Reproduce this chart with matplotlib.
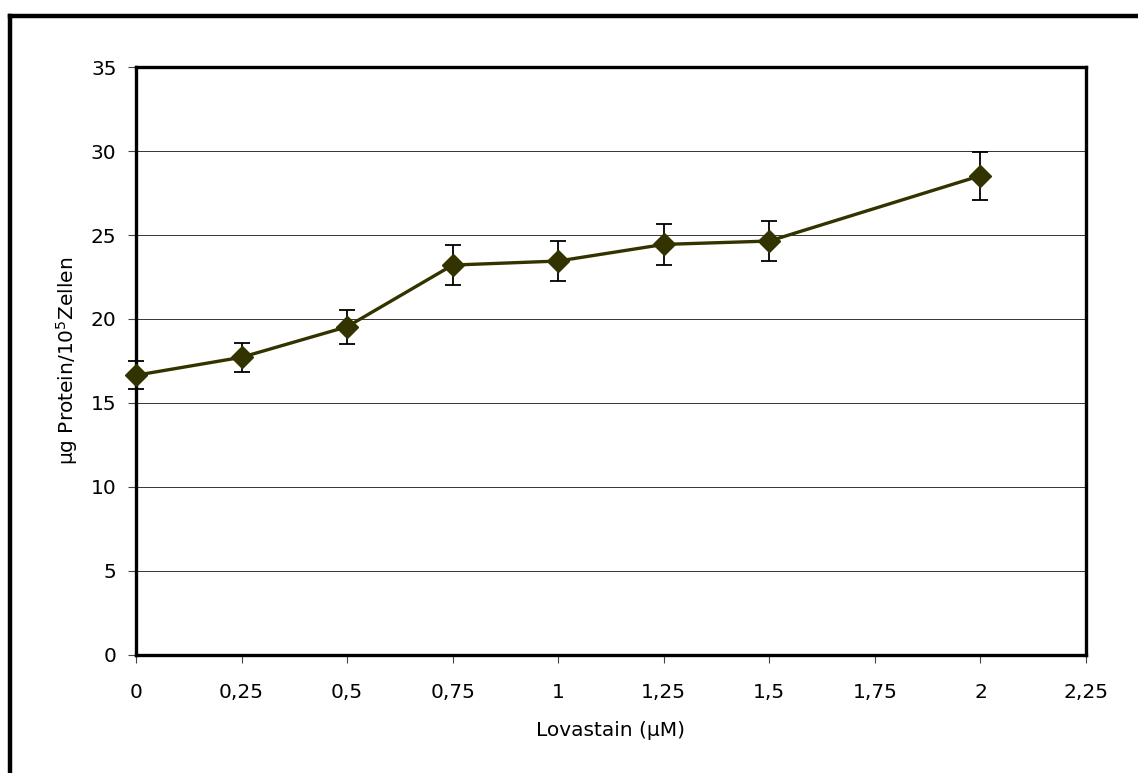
import matplotlib.pyplot as plt
from matplotlib.lines import Line2D
from matplotlib.ticker import FuncFormatter

# Lovastatin dose vs. protein content
dose = [0, 0.25, 0.5, 0.75, 1.0, 1.25, 1.5, 2.0]
protein = [16.65, 17.72, 19.54, 23.21, 23.45, 24.44, 24.64, 28.53]
protein_err = [0.82, 0.86, 1.01, 1.17, 1.17, 1.22, 1.21, 1.42]

x_ticks = [0, 0.25, 0.5, 0.75, 1.0, 1.25, 1.5, 1.75, 2.0, 2.25]
y_ticks = [0, 5, 10, 15, 20, 25, 30, 35]

plt.rcParams['font.family'] = ['DejaVu Sans']

fig = plt.figure(figsize=(11.38, 7.73), dpi=100)
ax = fig.add_axes([0.1195, 0.1527, 0.8348, 0.7606])

# frame around the chart (only left and top edges are inside the picture)
fig.add_artist(Line2D([0.0088, 0.0088], [0.0, 0.9793], transform=fig.transFigure,
                      color='black', lw=3.2, solid_capstyle='projecting'))
fig.add_artist(Line2D([0.0088, 1.0], [0.9793, 0.9793], transform=fig.transFigure,
                      color='black', lw=3.2, solid_capstyle='projecting'))

eb = ax.errorbar(dose, protein, yerr=protein_err, fmt='none', ecolor='black',
                 elinewidth=1.3, capsize=6, capthick=1.3, zorder=3)
for art in eb.lines[1] + eb.lines[2]:
    art.set_clip_on(False)
ax.plot(dose, protein, color='#333300', lw=2.4, marker='D', markersize=11,
        markerfacecolor='#333300', markeredgecolor='#333300', zorder=4,
        clip_on=False)

ax.set_xlim(0, 2.25)
ax.set_ylim(0, 35)
ax.set_xticks(x_ticks)
ax.set_yticks(y_ticks)
fmt = FuncFormatter(lambda v, p: f'{v:g}'.replace('.', ','))
ax.xaxis.set_major_formatter(fmt)
ax.yaxis.set_major_formatter(fmt)

ax.grid(axis='y', color='#333333', lw=0.7)
ax.set_axisbelow(True)
for s in ax.spines.values():
    s.set_linewidth(2.4)
    s.set_color('black')
ax.tick_params(direction='out', length=6, width=0.8, color='#444444',
               labelsize=14.5)
ax.tick_params(axis='x', pad=14)
ax.tick_params(axis='y', pad=8)

ax.set_xlabel('Lovastain (µM)', fontsize=14.5, labelpad=14)
ax.set_ylabel('µg Protein/10$^{5}$Zellen', fontsize=14.5, labelpad=8)

fig.savefig('out.png', dpi=100)
